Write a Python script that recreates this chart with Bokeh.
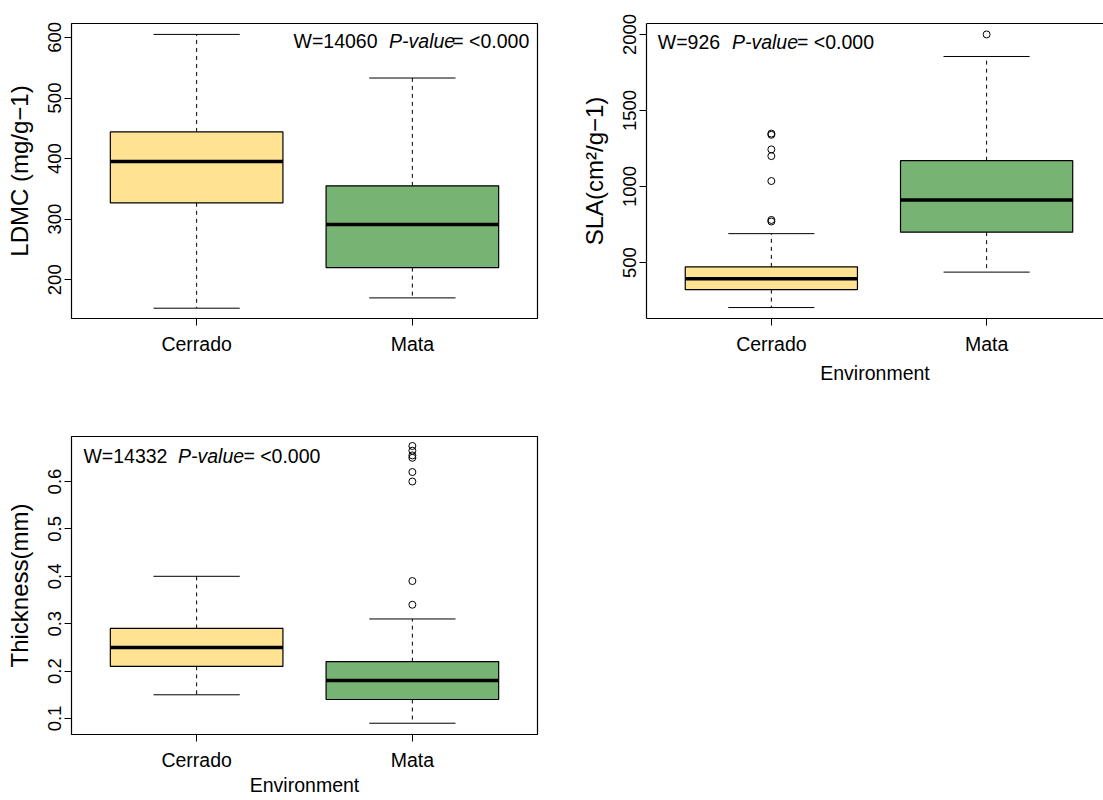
from bokeh.plotting import figure
from bokeh.layouts import row, column
from bokeh.models import FixedTicker, Range1d, Label, LinearAxis
from bokeh.embed import file_html
from bokeh.resources import INLINE

# ---------------- data ----------------
categories = ["Cerrado", "Mata"]
box_colors = ["#FFE393", "#77B473"]

ldmc_lower = [153, 170]
ldmc_q1 = [327, 220]
ldmc_median = [395, 291]
ldmc_q3 = [444, 355]
ldmc_upper = [605, 533]
ldmc_out_cat = []
ldmc_out_val = []
ldmc_ticks = [200, 300, 400, 500, 600]

sla_lower = [204, 437]
sla_q1 = [322, 700]
sla_median = [394, 912]
sla_q3 = [472, 1170]
sla_upper = [690, 1855]
sla_out_cat = ["Cerrado"] * 7 + ["Mata"]
sla_out_val = [1348, 1340, 1244, 1200, 1036, 780, 770, 2000]
sla_ticks = [500, 1000, 1500, 2000]

thk_lower = [0.15, 0.09]
thk_q1 = [0.21, 0.14]
thk_median = [0.25, 0.18]
thk_q3 = [0.29, 0.22]
thk_upper = [0.40, 0.31]
thk_out_cat = ["Mata"] * 8
thk_out_val = [0.34, 0.39, 0.60, 0.62, 0.65, 0.655, 0.665, 0.675]
thk_ticks = [0.1, 0.2, 0.3, 0.4, 0.5, 0.6]

annot_ldmc = ["W=14060", "P-value", "= <0.000"]
annot_sla = ["W=926", "P-value", "= <0.000"]
annot_thk = ["W=14332", "P-value", "= <0.000"]

FONT = "Liberation Sans"


def panel(lower, q1, med, q3, upper, out_cat, out_val, yticks, yrange, xend,
          ylabel, xlabel, xlabel_standoff, width, height, borders, annot,
          annot_x, annot_y, three_sides=False):
    left, right, top, bottom = borders
    p = figure(width=width, height=height, output_backend="svg",
               toolbar_location=None, x_range=Range1d(0.42, xend),
               y_range=Range1d(*yrange), min_border_left=left,
               min_border_right=right, min_border_top=top,
               min_border_bottom=bottom)
    p.grid.visible = False
    p.background_fill_color = "white"
    p.border_fill_color = "white"

    xs = [i + 1 for i in range(len(categories))]
    pos = {c: x for c, x in zip(categories, xs)}

    # whiskers (dashed)
    p.segment(x0=xs, y0=q3, x1=xs, y1=upper, line_color="black",
              line_width=1, line_dash="4 4")
    p.segment(x0=xs, y0=q1, x1=xs, y1=lower, line_color="black",
              line_width=1, line_dash="4 4")
    # caps
    p.segment(x0=[x - 0.2 for x in xs], y0=upper, x1=[x + 0.2 for x in xs],
              y1=upper, line_color="black", line_width=1)
    p.segment(x0=[x - 0.2 for x in xs], y0=lower, x1=[x + 0.2 for x in xs],
              y1=lower, line_color="black", line_width=1)
    # boxes
    p.vbar(x=xs, width=0.8, bottom=q1, top=q3, fill_color=box_colors,
           line_color="black", line_width=1.2)
    # medians
    p.segment(x0=[x - 0.4 for x in xs], y0=med, x1=[x + 0.4 for x in xs],
              y1=med, line_color="black", line_width=3.5)
    # outliers
    if out_val:
        p.scatter(x=[pos[c] for c in out_cat], y=out_val, marker="circle",
                  size=7, fill_color=None, line_color="black", line_width=1)

    # axes
    yax = p.yaxis[0]
    yax.ticker = FixedTicker(ticks=yticks)
    yax.major_label_orientation = "vertical"
    yax.major_tick_out = 7
    yax.major_tick_in = 0
    yax.minor_tick_out = 0
    yax.minor_tick_in = 0
    yax.major_label_standoff = 3
    yax.major_label_text_font = FONT
    yax.major_label_text_font_size = "18.5px"
    yax.major_label_text_color = "black"
    yax.axis_label = ylabel
    yax.axis_label_text_font = FONT
    yax.axis_label_text_font_size = "24px"
    yax.axis_label_text_font_style = "normal"
    yax.axis_label_text_color = "black"
    yax.axis_label_standoff = 13
    yax.major_tick_line_color = "black"

    xax = p.xaxis[0]
    xax.ticker = FixedTicker(ticks=xs)
    xax.major_label_overrides = {x: c for x, c in zip(xs, categories)}
    xax.major_tick_out = 7
    xax.major_tick_in = 0
    xax.minor_tick_out = 0
    xax.minor_tick_in = 0
    xax.major_label_standoff = 7
    xax.major_label_text_font = FONT
    xax.major_label_text_font_size = "19.5px"
    xax.major_label_text_color = "black"
    xax.major_tick_line_color = "black"
    if xlabel:
        xax.axis_label = xlabel
        xax.axis_label_text_font = FONT
        xax.axis_label_text_font_size = "19.5px"
        xax.axis_label_text_font_style = "normal"
        xax.axis_label_text_color = "black"
        xax.axis_label_standoff = xlabel_standoff

    if three_sides:
        p.outline_line_color = None
        yax.axis_line_color = "black"
        yax.axis_line_width = 1.2
        xax.axis_line_color = "black"
        xax.axis_line_width = 1.2
        top_ax = LinearAxis(ticker=FixedTicker(ticks=[]), major_tick_out=0,
                            major_tick_in=0, minor_tick_out=0, minor_tick_in=0,
                            major_label_text_font_size="0px",
                            axis_line_color="black", axis_line_width=1.2)
        p.add_layout(top_ax, "above")
    else:
        p.outline_line_color = "black"
        p.outline_line_width = 1.2
        yax.axis_line_color = None
        xax.axis_line_color = None

    styles = ["normal", "italic", "normal"]
    for txt, ax_, st in zip(annot, annot_x, styles):
        p.add_layout(Label(x=ax_, y=annot_y, x_units="screen",
                           y_units="screen", text=txt, text_font=FONT,
                           text_font_size="19.5px", text_font_style=st,
                           text_color="black", text_baseline="alphabetic",
                           text_align="left"))
    return p


p1 = panel(ldmc_lower, ldmc_q1, ldmc_median, ldmc_q3, ldmc_upper,
           ldmc_out_cat, ldmc_out_val, ldmc_ticks, (136, 623), 2.58,
           "LDMC (mg/g\u22121)", None, 0, 577, 428, (71, 40, 23, 110),
           annot_ldmc, [222, 317.6, 380.8], 278)

p2 = panel(sla_lower, sla_q1, sla_median, sla_q3, sla_upper,
           sla_out_cat, sla_out_val, sla_ticks, (132, 2072), 2.543,
           "SLA(cm\u00b2/g\u22121)", "Environment", 4, 526, 428,
           (68, 0, 23, 110), annot_sla, [11.3, 85.4, 150.5], 277,
           three_sides=True)

p3 = panel(thk_lower, thk_q1, thk_median, thk_q3, thk_upper,
           thk_out_cat, thk_out_val, thk_ticks, (0.0662, 0.695), 2.58,
           "Thickness(mm)", "Environment", 0, 577, 372, (71, 40, 8, 66),
           annot_thk, [11.9, 106.5, 171.9], 278.4)

layout = column(row(p1, p2), p3)

with open("out.html", "w") as f:
    f.write(file_html(layout, INLINE))
